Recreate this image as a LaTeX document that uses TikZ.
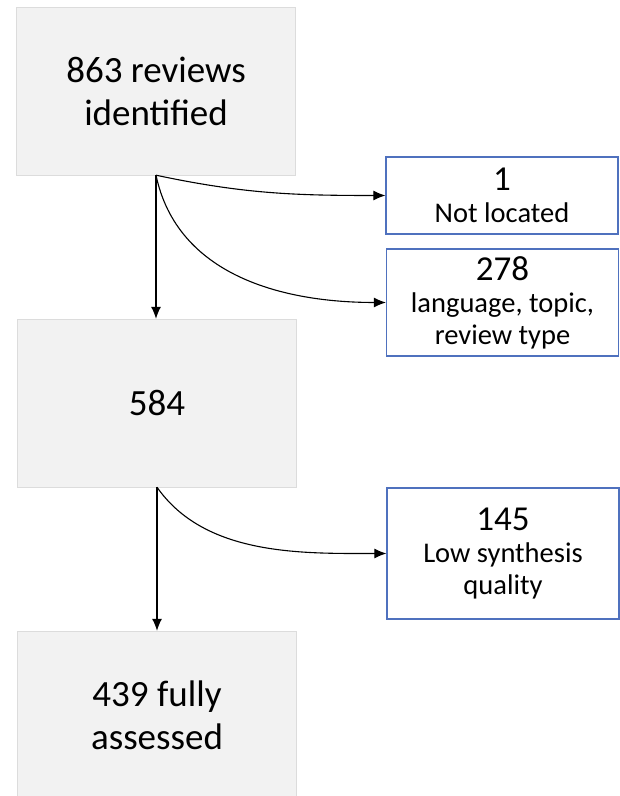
\documentclass[tikz,border=0pt]{standalone}
\usepackage{fontspec}
\setmainfont{Carlito}
\usetikzlibrary{arrows.meta}
\definecolor{boxgray}{HTML}{F2F2F2}
\definecolor{edgegray}{HTML}{DCDCDC}
\definecolor{edgeblue}{HTML}{4F71BE}
\newcommand{\bignum}[1]{{\fontsize{35}{40}\selectfont #1}}
\tikzset{
  stage/.style={draw=edgegray, fill=boxgray, minimum width=279pt, minimum height=168pt,
    inner sep=0pt, align=center, font=\fontsize{37}{43}\selectfont},
  excl/.style={draw=edgeblue, line width=1.2pt, fill=white, minimum width=232pt,
    inner sep=0pt, align=center, font=\fontsize{28.5}{32}\selectfont},
  flow/.style={-{Latex[length=12pt,width=10pt]}, line width=1.1pt},
}
\begin{document}
\begin{tikzpicture}[x=1pt,y=1pt]
  \useasboundingbox (0,0) rectangle (620,796);
  % main stages
  \node[stage] (found) at (156,705) {863 reviews\\identified};
  \node[stage] (screened) at (157,393) {584};
  \node[stage] (assessed) at (157,81) {439 fully\\assessed};

  % exclusions
  \node[excl, minimum height=77pt] (notloc) at (502,600.5) {\bignum{1}\\Not located};
  \node[excl, minimum height=107pt] (scope) at (502.5,493.5) {\bignum{278}\\language, topic,\\review type};
  \node[excl, minimum height=131pt] (lowq) at (503,242.5) {\bignum{145}\\Low synthesis\\quality};

  % flow
  \draw[flow] (found.south) -- (found.south |- screened.north);
  \draw[flow] (found.south) to[out=-12,in=180] (notloc.west);
  \draw[flow] (found.south) to[out=-78,in=180] (scope.west);
  \draw[flow] (screened.south) -- (screened.south |- assessed.north);
  \draw[flow] (screened.south) to[out=-55,in=180,looseness=0.9] (lowq.west);
\end{tikzpicture}
\end{document}
